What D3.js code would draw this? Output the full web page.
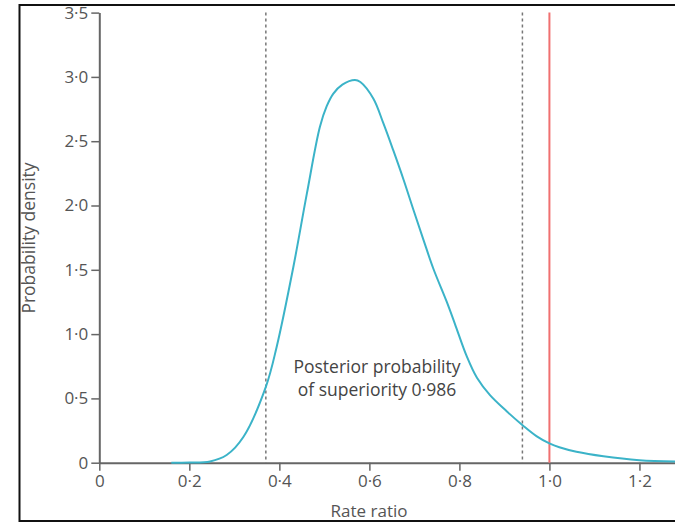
<!DOCTYPE html>
<html>
<head>
<meta charset="utf-8">
<script src="https://cdn.jsdelivr.net/npm/d3@7"></script>
<style>
  body { margin: 0; background: #fff; }
  svg { display: block; }
  .tick text { font-family: "Open Sans", sans-serif; font-size: 17px; fill: #555; }
</style>
</head>
<body>
<div id="chart"></div>
<script>
// curve
const rateRatio = [0.16, 0.2, 0.246, 0.283, 0.32, 0.37, 0.394, 0.431, 0.461, 0.49, 0.505, 0.52, 0.54, 0.568,
                   0.58, 0.609, 0.631, 0.653, 0.676, 0.698, 0.72, 0.742, 0.772, 0.79, 0.816, 0.839, 0.868,
                   0.905, 0.941, 0.972, 1.0, 1.022, 1.06, 1.12, 1.2, 1.279];
const density = [0, 0.002, 0.01, 0.06, 0.2, 0.59, 0.9, 1.52, 2.09, 2.61, 2.77, 2.87, 2.94, 2.976,
                 2.96, 2.83, 2.64, 2.43, 2.2, 1.965, 1.735, 1.51, 1.25, 1.08, 0.83, 0.66, 0.525,
                 0.4, 0.29, 0.205, 0.15, 0.12, 0.085, 0.05, 0.02, 0.01];
const credibleBounds = [0.37, 0.94];
const nullValue = 1.0;
const xTicks = [0, 0.2, 0.4, 0.6, 0.8, 1.0, 1.2];
const yTicks = [0, 0.5, 1.0, 1.5, 2.0, 2.5, 3.0, 3.5];
const annotation = ["Posterior probability", "of superiority 0·986"];

const W = 675, H = 524;
const svg = d3.select("#chart").append("svg")
    .attr("width", W)
    .attr("height", H);

svg.append("rect").attr("width", W).attr("height", H).attr("fill", "#fff");

const x = d3.scaleLinear().domain([0, 1.279]).range([99.3, 675]);
const y = d3.scaleLinear().domain([0, 3.5]).range([462.7, 12.6]);

const fmt = d => d === 0 ? "0" : d3.format(".1f")(d).replace(".", "·");

// axes
svg.append("g")
    .attr("transform", `translate(${x(0)},0)`)
    .call(d3.axisLeft(y).tickValues(yTicks).tickFormat(fmt).tickSize(8).tickSizeOuter(0).tickPadding(3));

svg.append("g")
    .attr("transform", `translate(0,${y(0)})`)
    .call(d3.axisBottom(x).tickValues(xTicks).tickFormat(fmt).tickSize(8).tickSizeOuter(0).tickPadding(4));

svg.selectAll(".domain").attr("stroke", "#666").attr("stroke-width", 2);
svg.selectAll(".tick line").attr("stroke", "#666").attr("stroke-width", 1.5);

// credible interval bounds
svg.selectAll(".bound")
    .data(credibleBounds)
    .join("line")
    .attr("class", "bound")
    .attr("x1", d => x(d)).attr("x2", d => x(d))
    .attr("y1", y(3.5)).attr("y2", y(0))
    .attr("stroke", "#777")
    .attr("stroke-width", 1.5)
    .attr("stroke-dasharray", "3,3");

// line of no difference
svg.append("line")
    .attr("x1", x(nullValue)).attr("x2", x(nullValue))
    .attr("y1", y(3.5)).attr("y2", y(0))
    .attr("stroke", "#f07070")
    .attr("stroke-width", 2);

// density curve
const line = d3.line()
    .x((d, i) => x(rateRatio[i]))
    .y(d => y(d))
    .curve(d3.curveCatmullRom.alpha(0.5));

svg.append("path")
    .datum(density)
    .attr("fill", "none")
    .attr("stroke", "#3bb3c8")
    .attr("stroke-width", 2)
    .attr("d", line);

// annotation
svg.append("text")
    .attr("x", 377)
    .attr("y", 373)
    .attr("text-anchor", "middle")
    .style("font-family", "Open Sans, sans-serif")
    .style("font-size", "17.5px")
    .style("fill", "#444")
    .selectAll("tspan")
    .data(annotation)
    .join("tspan")
    .attr("x", 377)
    .attr("dy", (d, i) => i === 0 ? 0 : 23)
    .text(d => d);

// axis titles
svg.append("text")
    .attr("x", 369)
    .attr("y", 517)
    .attr("text-anchor", "middle")
    .style("font-family", "Open Sans, sans-serif")
    .style("font-size", "17px")
    .style("fill", "#555")
    .text("Rate ratio");

svg.append("text")
    .attr("transform", "translate(35,238) rotate(-90)")
    .attr("text-anchor", "middle")
    .style("font-family", "Open Sans, sans-serif")
    .style("font-size", "17.5px")
    .style("fill", "#555")
    .text("Probability density");

// frame (cropped at the right)
svg.append("path")
    .attr("d", `M${W},5 H19.5 V521 H${W}`)
    .attr("fill", "none")
    .attr("stroke", "#111")
    .attr("stroke-width", 2);
</script>
</body>
</html>
